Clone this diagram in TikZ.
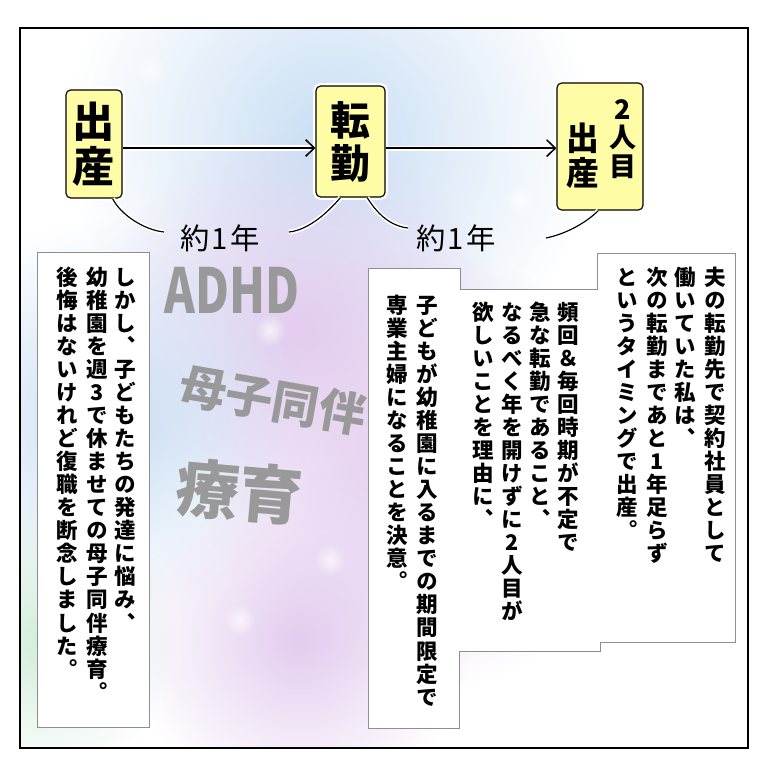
\documentclass[tikz,border=0pt]{standalone}
\usepackage{fontspec}
\usetikzlibrary{arrows.meta,positioning,fadings}
\newfontfamily\jp[RawFeature=+vert]{Noto Sans CJK JP}
\definecolor{pale}{HTML}{FFFCA6}
\definecolor{edgegray}{HTML}{8E8E8E}
\definecolor{inkgray}{HTML}{999999}
\definecolor{skyb}{HTML}{C8DEF4}
\definecolor{lilac}{HTML}{E3CCEF}
\definecolor{mint}{HTML}{D3EEDC}
\tikzfading[name=blob,inner color=transparent!0,outer color=transparent!100]

\makeatletter
\def\tate@end{}
\newcommand\tate[1]{\vtop{\offinterlineskip\tate@a#1\tate@end}}
\def\tate@a#1{\ifx#1\tate@end\else\hbox to 1em{\vrule height .92em depth .15em width 0pt\hss#1\hss}\expandafter\tate@a\fi}
\makeatother

\begin{document}
\begin{tikzpicture}[x=0.03cm,y=-0.03cm,
  ybox/.style={draw=black,line width=1pt,rounded corners=4pt,fill=pale,inner sep=0pt,preaction={draw=white,line width=5pt}},
  arr/.style={-{Straight Barb[length=2.6mm,width=5mm]},line width=1.3pt,preaction={draw=white,line width=4.5pt,-}},
  brace/.style={line width=1pt,preaction={draw=white,line width=4pt}},
  msg/.style={draw=edgegray,line width=.8pt,fill=white},
  col/.style={anchor=north,inner sep=0pt,font=\jp\bfseries\fontsize{18.4pt}{18.4pt}\selectfont},
  hand/.style={inner sep=0pt,font=\jp\fontsize{25pt}{25pt}\selectfont},
  deco/.style={text=inkgray,inner sep=0pt}
]
  \useasboundingbox (0,0) rectangle (768,768);
  \fill[white] (0,0) rectangle (768,768);
  \begin{scope}
    \clip (20,28) rectangle (748,748);
    \fill[skyb,path fading=blob] (330,140) circle (260);
    \fill[lilac,path fading=blob] (300,330) circle (200);
    \fill[skyb,path fading=blob] (110,420) circle (200);
    \fill[lilac,path fading=blob] (420,470) circle (220);
    \fill[mint,path fading=blob] (40,640) circle (140);
    \fill[lilac,path fading=blob] (300,640) circle (170);
    \foreach \p in {(150,70),(270,330),(330,560),(60,520),(240,620),(520,200)}
      \fill[white,opacity=.7,path fading=blob] \p circle (16);
  \end{scope}

  \node[deco,font=\jp\bfseries\fontsize{53pt}{53pt}\selectfont,xscale=.75] (adhd) at (232,290) {ADHD};
  \node[deco,font=\jp\bfseries\fontsize{40pt}{40pt}\selectfont,rotate=-10] (care1) at (273,400) {母子同伴};
  \node[deco,font=\jp\bfseries\fontsize{54pt}{54pt}\selectfont,rotate=-5] (care2) at (240,492) {療育};

  \draw[msg] (37,252) rectangle (149,727);
  \node[col] (l1) at (125,265) {\tate{しかし、子どもたちの発達に悩み、}};
  \node[col] (l2) at (97,265) {\tate{幼稚園を週3で休ませての母子同伴療育。}};
  \node[col] (l3) at (67,265) {\tate{後悔はないけれど復職を断念しました。}};

  \draw[msg] (368,268) -- (460,268) -- (460,289) -- (597,289) -- (597,253) -- (735,253) -- (735,642)
    -- (600,642) -- (600,651) -- (459,651) -- (459,728) -- (368,728) -- cycle;
  \node[col] (r1) at (715,265) {\tate{夫の転勤先で契約社員として}};
  \node[col] (r2) at (685,265) {\tate{働いていた私は、}};
  \node[col] (r3) at (657,265) {\tate{次の転勤まであと1年足らず}};
  \node[col] (r4) at (627,265) {\tate{というタイミングで出産。}};
  \node[col] (r5) at (568,300) {\tate{頻回＆毎回時期が不定で}};
  \node[col] (r6) at (540,300) {\tate{急な転勤であること、}};
  \node[col] (r7) at (512,300) {\tate{なるべく年を開けずに2人目が}};
  \node[col] (r8) at (483,300) {\tate{欲しいことを理由に、}};
  \node[col] (r9) at (427,293) {\tate{子どもが幼稚園に入るまでの期間限定で}};
  \node[col] (r10) at (397,293) {\tate{専業主婦になることを決意。}};

  \node[hand] (yr1) at (220,238) {約\kern2pt1\kern2pt年};
  \node[hand] (yr2) at (456,238) {約\kern2pt1\kern2pt年};

  \node[ybox,minimum width=1.68cm,minimum height=3.24cm,font=\jp\bfseries\fontsize{36pt}{36pt}\selectfont] (birth1) at (94,144) {\tate{出産}};
  \node[ybox,minimum width=2.07cm,minimum height=3.33cm,font=\jp\bfseries\fontsize{34pt}{34pt}\selectfont] (tenkin) at (350.5,141.5) {\tate{転勤}};
  \node[ybox,minimum width=2.58cm,minimum height=3.81cm] (birth2) at (600,146.5) {};
  \node[col,font=\jp\bfseries\fontsize{23pt}{23pt}\selectfont] (b2a) at (623,94) {\tate{2人目}};
  \node[col,font=\jp\bfseries\fontsize{28pt}{28pt}\selectfont] (b2b) at (583,120) {\tate{出産}};

  \draw[arr] ([yshift=-0.12cm]birth1.east) -- ([yshift=-0.12cm]birth1.east -| tenkin.west);
  \draw[arr] ([yshift=-0.2cm]tenkin.east) -- ([yshift=-0.2cm]tenkin.east -| birth2.west);

  \draw[brace] ([xshift=-0.3cm]birth1.south east) .. controls +(8,16) and +(-20,-2) .. ([shift={(-0.48cm,0.18cm)}]yr1.west);
  \draw[brace] ([shift={(0.87cm,0.18cm)}]yr1.east) .. controls +(20,-2) and +(-12,14) .. ([xshift=-0.3cm]tenkin.south);
  \draw[brace] ([xshift=0.5cm]tenkin.south) .. controls +(10,16) and +(-18,-2) .. ([shift={(-0.24cm,0.3cm)}]yr2.west);
  \draw[brace] ([xshift=1.5cm]yr2.east) .. controls +(20,-4) and +(-12,12) .. ([xshift=-0.05cm]birth2.south);

  \draw[line width=1.6pt] (20,28) rectangle (748,748);
\end{tikzpicture}
\end{document}
